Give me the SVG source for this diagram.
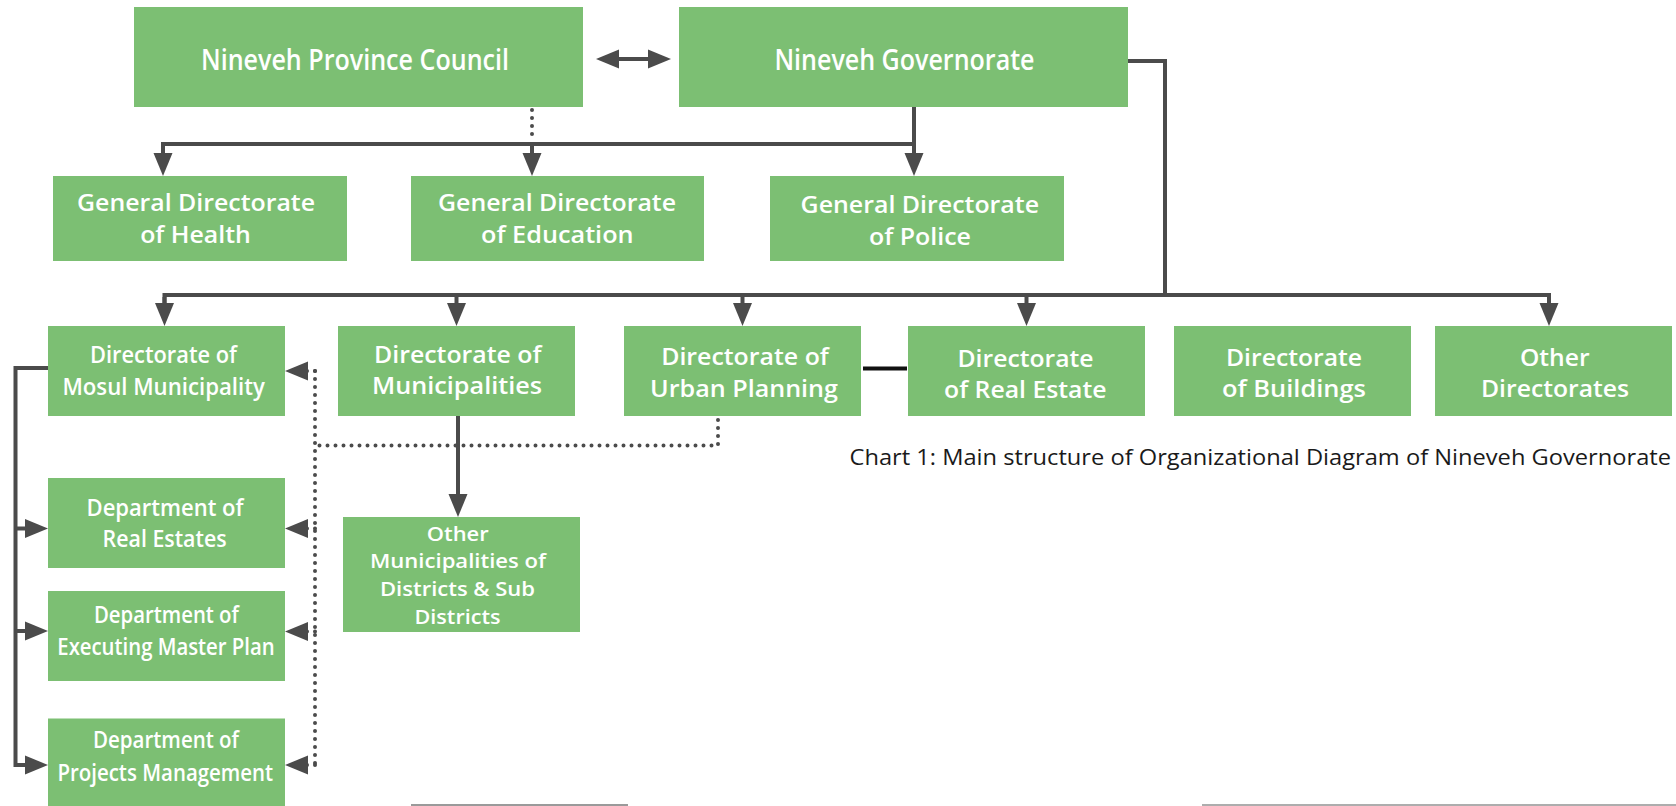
<svg xmlns="http://www.w3.org/2000/svg" width="1676" height="806" viewBox="0 0 1676 806">
<style>
.box{fill:#7cbf73;}
.t{font-family:"Open Sans","Liberation Sans",sans-serif;font-weight:600;fill:#ffffff;text-anchor:middle;}
.t28{font-size:28px;}
.t25{font-size:23.5px;}
.t24{font-size:23px;}
.t22{font-size:22.5px;}
.t20{font-size:20px;}
.cap{font-family:"Open Sans","Liberation Sans",sans-serif;font-weight:400;font-size:21px;fill:#1a1a1a;}
.ln{fill:none;stroke:#4b4b4b;stroke-width:4;}
.dot{fill:none;stroke:#4b4b4b;stroke-width:4;stroke-linecap:round;stroke-dasharray:0 8;}
.arr{marker-end:url(#ah);}
</style>
<defs>
<marker id="ah" markerUnits="userSpaceOnUse" markerWidth="24" markerHeight="20" refX="3" refY="10" orient="auto" viewBox="0 0 24 20">
<path d="M0,0.5 L23,10 L0,19.5 Z" fill="#4b4b4b"/>
</marker>
<marker id="ahs" markerUnits="userSpaceOnUse" markerWidth="24" markerHeight="20" refX="3" refY="10" orient="auto-start-reverse" viewBox="0 0 24 20">
<path d="M0,0.5 L23,10 L0,19.5 Z" fill="#4b4b4b"/>
</marker>
</defs>

<g id="connectors">
<path class="ln" d="M616,59 H651" marker-start="url(#ahs)" marker-end="url(#ahs)"/>
<path class="ln" d="M914,107 V156" marker-end="url(#ah)"/>
<path class="ln" d="M914,144 H163 V156" marker-end="url(#ah)"/>
<path class="ln" d="M532,144 V156" marker-end="url(#ah)"/>
<path class="dot" d="M532,110 V142"/>
<path class="ln" d="M1128,61 H1165 V295"/>
<path class="ln" d="M164.5,306 V295 H1549 V306" marker-end="url(#ah)"/>
<path class="ln" d="M164.5,297 V306" marker-end="url(#ah)"/>
<path class="ln" d="M456.5,295 V306" marker-end="url(#ah)"/>
<path class="ln" d="M742.5,295 V306" marker-end="url(#ah)"/>
<path class="ln" d="M1026.5,295 V306" marker-end="url(#ah)"/>
<path d="M863,368.5 H907" fill="none" stroke="#111111" stroke-width="4"/>
<path class="ln" d="M458,416 V497" marker-end="url(#ah)"/>
<path class="ln" d="M48,368 H15.5 V765 H28" marker-end="url(#ah)"/>
<path class="ln" d="M15.5,528.5 H28" marker-end="url(#ah)"/>
<path class="ln" d="M15.5,631 H28" marker-end="url(#ah)"/>
<path class="dot" d="M718,420 V445.5 H315"/>
<path class="dot" d="M315,371 V765"/>
<path class="dot arr" d="M315,371 H305"/>
<path class="dot arr" d="M315,528.5 H305"/>
<path class="dot arr" d="M315,631.5 H305"/>
<path class="dot arr" d="M315,765 H305"/>
</g>

<g id="n-council">
<rect class="box" x="134" y="7" width="449" height="100"/>
<text class="t t28" x="355" y="70" textLength="308" lengthAdjust="spacingAndGlyphs">Nineveh Province Council</text>
</g>
<g id="n-governorate">
<rect class="box" x="679" y="7" width="449" height="100"/>
<text class="t t28" x="904.5" y="70" textLength="260" lengthAdjust="spacingAndGlyphs">Nineveh Governorate</text>
</g>

<g id="n-health">
<rect class="box" x="53" y="176" width="294" height="85"/>
<text class="t t25" x="196" y="210.5" textLength="238" lengthAdjust="spacingAndGlyphs">General Directorate</text>
<text class="t t25" x="195.5" y="242.5" textLength="110.7" lengthAdjust="spacingAndGlyphs">of Health</text>
</g>
<g id="n-education">
<rect class="box" x="411" y="176" width="293" height="85"/>
<text class="t t25" x="557" y="210.5" textLength="238" lengthAdjust="spacingAndGlyphs">General Directorate</text>
<text class="t t25" x="557.3" y="242.5" textLength="152.6" lengthAdjust="spacingAndGlyphs">of Education</text>
</g>
<g id="n-police">
<rect class="box" x="770" y="176" width="294" height="85"/>
<text class="t t25" x="919.8" y="213" textLength="238.5" lengthAdjust="spacingAndGlyphs">General Directorate</text>
<text class="t t25" x="920" y="245" textLength="102" lengthAdjust="spacingAndGlyphs">of Police</text>
</g>

<g id="n-mosul">
<rect class="box" x="48" y="326" width="237" height="90"/>
<text class="t t22" x="163.5" y="363.3" textLength="147" lengthAdjust="spacingAndGlyphs">Directorate of</text>
<text class="t t22" x="163.6" y="395.3" textLength="202.4" lengthAdjust="spacingAndGlyphs">Mosul Municipality</text>
</g>
<g id="n-municipalities">
<rect class="box" x="338" y="326" width="237" height="90"/>
<text class="t t24" x="457.8" y="363.3" textLength="167.5" lengthAdjust="spacingAndGlyphs">Directorate of</text>
<text class="t t24" x="457" y="394.3" textLength="170" lengthAdjust="spacingAndGlyphs">Municipalities</text>
</g>
<g id="n-urban">
<rect class="box" x="624" y="326" width="237" height="90"/>
<text class="t t24" x="745" y="364.5" textLength="167.7" lengthAdjust="spacingAndGlyphs">Directorate of</text>
<text class="t t24" x="744" y="396.5" textLength="188" lengthAdjust="spacingAndGlyphs">Urban Planning</text>
</g>
<g id="n-realestate">
<rect class="box" x="908" y="326" width="237" height="90"/>
<text class="t t24" x="1025.5" y="366.7" textLength="136" lengthAdjust="spacingAndGlyphs">Directorate</text>
<text class="t t24" x="1025.3" y="398.3" textLength="162.6" lengthAdjust="spacingAndGlyphs">of Real Estate</text>
</g>
<g id="n-buildings">
<rect class="box" x="1174" y="326" width="237" height="90"/>
<text class="t t24" x="1294" y="366" textLength="136" lengthAdjust="spacingAndGlyphs">Directorate</text>
<text class="t t24" x="1294" y="397.3" textLength="144" lengthAdjust="spacingAndGlyphs">of Buildings</text>
</g>
<g id="n-other-dirs">
<rect class="box" x="1435" y="326" width="237" height="90"/>
<text class="t t24" x="1554.8" y="366" textLength="69.7" lengthAdjust="spacingAndGlyphs">Other</text>
<text class="t t24" x="1555" y="397.3" textLength="148" lengthAdjust="spacingAndGlyphs">Directorates</text>
</g>

<g id="n-other-municipalities">
<rect class="box" x="343" y="517" width="237" height="115"/>
<text class="t t20" x="457.7" y="540.7" textLength="62" lengthAdjust="spacingAndGlyphs">Other</text>
<text class="t t20" x="458" y="568.3" textLength="176" lengthAdjust="spacingAndGlyphs">Municipalities of</text>
<text class="t t20" x="457.5" y="596" textLength="155" lengthAdjust="spacingAndGlyphs">Districts &amp; Sub</text>
<text class="t t20" x="457.5" y="624" textLength="86" lengthAdjust="spacingAndGlyphs">Districts</text>
</g>

<g id="n-dep-realestates">
<rect class="box" x="48" y="478" width="237" height="90"/>
<text class="t t22" x="165" y="515.7" textLength="157" lengthAdjust="spacingAndGlyphs">Department of</text>
<text class="t t22" x="164.6" y="546.7" textLength="124" lengthAdjust="spacingAndGlyphs">Real Estates</text>
</g>
<g id="n-dep-masterplan">
<rect class="box" x="48" y="591" width="237" height="90"/>
<text class="t t22" x="166.4" y="622.7" textLength="145" lengthAdjust="spacingAndGlyphs">Department of</text>
<text class="t t22" x="166" y="655" textLength="217.4" lengthAdjust="spacingAndGlyphs">Executing Master Plan</text>
</g>
<g id="n-dep-projects">
<rect class="box" x="48" y="718.5" width="237" height="87.5"/>
<text class="t t22" x="166" y="748.3" textLength="146" lengthAdjust="spacingAndGlyphs">Department of</text>
<text class="t t22" x="165.3" y="780.7" textLength="215.8" lengthAdjust="spacingAndGlyphs">Projects Management</text>
</g>

<text id="caption" class="cap" x="849.5" y="465" textLength="821.5" lengthAdjust="spacingAndGlyphs">Chart 1: Main structure of Organizational Diagram of Nineveh Governorate</text>

<rect x="411" y="804" width="217" height="2" fill="#6f6f6f" opacity="0.7"/>
<rect x="1202" y="804" width="474" height="2" fill="#8a8a8a" opacity="0.7"/>
</svg>
